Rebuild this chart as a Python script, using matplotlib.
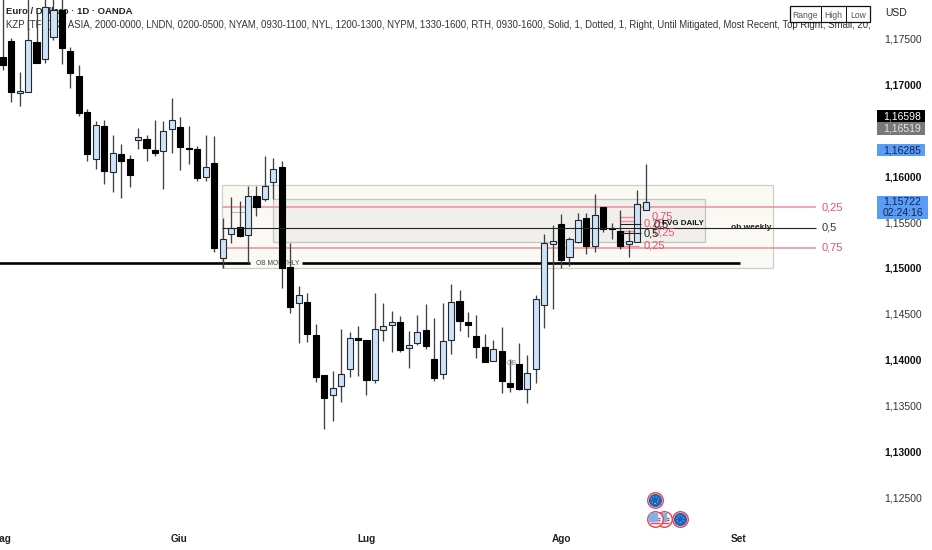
#!/bin/env python3

import matplotlib
matplotlib.use("Agg")
import matplotlib.pyplot as plt
from matplotlib.patches import Rectangle

plt.rcParams['font.family'] = ['Liberation Sans', 'DejaVu Sans']

# daily candles, one entry per session
opens = [1.17298, 1.17473, 1.16906, 1.16917, 1.17462, 1.17277, 1.17516, 1.17810, 1.17364, 1.17091,
         1.16699, 1.16187, 1.16547, 1.16046, 1.16242, 1.16187, 1.16394, 1.16405, 1.16285, 1.16274,
         1.16514, 1.16536, 1.16307, 1.16296, 1.15991, 1.16144, 1.15109, 1.15370, 1.15447, 1.15359,
         1.15784, 1.15752, 1.15937, 1.16100, 1.15011, 1.14619, 1.14630, 1.14270, 1.13834, 1.13617,
         1.13715, 1.13900, 1.14237, 1.14216, 1.13780, 1.14325, 1.14379, 1.14412, 1.14129, 1.14183,
         1.14325, 1.14009, 1.13845, 1.14216, 1.14641, 1.14412, 1.14259, 1.14139, 1.13987, 1.14096,
         1.13747, 1.13954, 1.13682, 1.13900, 1.14597, 1.15261, 1.15479, 1.15120, 1.15283, 1.15545,
         1.15240, 1.15664, 1.15436, 1.15403, 1.15261, 1.15283, 1.15632]
closes = [1.17211, 1.16917, 1.16928, 1.17484, 1.17233, 1.17843, 1.17810, 1.17396, 1.17124, 1.16688,
          1.16242, 1.16558, 1.16057, 1.16253, 1.16166, 1.16013, 1.16427, 1.16307, 1.16253, 1.16492,
          1.16612, 1.16318, 1.16296, 1.15980, 1.16100, 1.15218, 1.15316, 1.15436, 1.15349, 1.15784,
          1.15664, 1.15893, 1.16078, 1.15000, 1.14575, 1.14706, 1.14281, 1.13813, 1.13584, 1.13693,
          1.13845, 1.14237, 1.14216, 1.13780, 1.14336, 1.14368, 1.14412, 1.14107, 1.14161, 1.14303,
          1.14150, 1.13802, 1.14205, 1.14630, 1.14423, 1.14379, 1.14139, 1.13976, 1.14118, 1.13769,
          1.13704, 1.13682, 1.13856, 1.14662, 1.15272, 1.15294, 1.15087, 1.15316, 1.15523, 1.15240,
          1.15577, 1.15425, 1.15425, 1.15240, 1.15294, 1.15697, 1.15722]
highs = [1.17996, 1.17505, 1.17135, 1.17996, 1.17778, 1.17996, 1.17996, 1.17996, 1.17407, 1.17211,
         1.16732, 1.16601, 1.16612, 1.16449, 1.16351, 1.16231, 1.16525, 1.16449, 1.16612, 1.16601,
         1.16852, 1.16645, 1.16547, 1.16329, 1.16449, 1.16438, 1.15545, 1.15773, 1.15730, 1.15893,
         1.15893, 1.16220, 1.16198, 1.16166, 1.15272, 1.14804, 1.14728, 1.14390, 1.13834, 1.13878,
         1.14336, 1.14303, 1.14368, 1.14216, 1.14728, 1.14619, 1.14532, 1.14477, 1.14314, 1.14488,
         1.14608, 1.14455, 1.14619, 1.14826, 1.14760, 1.14521, 1.14488, 1.14281, 1.14216, 1.14357,
         1.14009, 1.14183, 1.14052, 1.14706, 1.15370, 1.15468, 1.15588, 1.15338, 1.15599, 1.15599,
         1.15806, 1.15664, 1.15490, 1.15632, 1.15414, 1.15850, 1.16133]
lows = [1.17157, 1.16808, 1.16765, 1.16917, 1.17233, 1.17233, 1.17484, 1.17222, 1.16961, 1.16656,
        1.16166, 1.16078, 1.15915, 1.15828, 1.15763, 1.15882, 1.16296, 1.16166, 1.16220, 1.15861,
        1.16253, 1.16068, 1.16133, 1.15948, 1.15948, 1.15174, 1.15000, 1.15272, 1.15338, 1.15054,
        1.15566, 1.15730, 1.15752, 1.14782, 1.14510, 1.14183, 1.14194, 1.13758, 1.13246, 1.13333,
        1.13540, 1.13813, 1.13824, 1.13617, 1.13747, 1.14205, 1.14085, 1.14085, 1.13911, 1.14161,
        1.14118, 1.13769, 1.13791, 1.14063, 1.14314, 1.14248, 1.14020, 1.13976, 1.13987, 1.13638,
        1.13649, 1.13671, 1.13529, 1.13747, 1.14346, 1.14553, 1.15000, 1.15022, 1.15272, 1.15153,
        1.15174, 1.15392, 1.15316, 1.15207, 1.15120, 1.15283, 1.15632]

price_ticks = [1.17500, 1.17000, 1.16000, 1.15500, 1.15000, 1.14500, 1.14000, 1.13500, 1.13000, 1.12500]
month_pos = [-0.2, 20.8, 43, 66, 87]
month_names = ["Mag", "Giu", "Lug", "Ago", "Set"]

fib_levels = [1.15664, 1.15441, 1.15218]
fib_labels = ["0,25", "0,5", "0,75"]
small_fib_red = [1.15556, 1.15512, 1.15403, 1.15240]
small_fib_black = [1.15479, 1.15381]

# label, lower edge, upper edge, box colour, text colour
price_tags = [("1,16598", 1.16590, 1.16721, "#000000", "#ffffff"),
              ("1,16519", 1.16449, 1.16590, "#787878", "#e6e6e6"),
              ("1,16285", 1.16215, 1.16351, "#5b9cf6", "#12264a")]

# calendar markers, session position and price level
eu_x = [77.1, 80.1]
eu_y = [1.12473, 1.12266]
us_x = [77.1, 78.2]
us_y = [1.12266, 1.12266]

UP_FILL = "#cfe2f7"
EDGE = "#1f2a33"
WICK = "#3f4347"


def draw_candles(axe) -> int:
    """wicks first, bodies on top"""

    for i in range(len(opens)):
        axe.vlines(i, lows[i], highs[i], color=WICK, linewidth=0.95, zorder=5)
        bottom = min(opens[i], closes[i])
        height = abs(opens[i] - closes[i])
        if (closes[i] >= opens[i]):
            fill = UP_FILL
            edge = EDGE
        else:
            fill = "#000000"
            edge = "#000000"
        axe.bar(i, height, bottom=bottom, width=0.72, color=fill, edgecolor=edge, linewidth=0.8, zorder=6)

    return 0


def draw_zones(axe) -> int:
    """order block boxes, fib levels and their labels"""

    axe.add_patch(Rectangle((25.9, 1.15000), 65.15, 0.00899, facecolor="#fbf9f4", edgecolor="#cfcfca", linewidth=0.9, zorder=1))
    axe.add_patch(Rectangle((32.0, 1.15278), 51.07, 0.00470, facecolor="#f0efeb", edgecolor="#c4c4c0", linewidth=0.9, zorder=2))

    for level, lab in zip(fib_levels, fib_labels):
        black = lab == "0,5"
        color = "#222222" if black else "#ee8c9c"
        axe.hlines(level, 25.9, 96.1, color=color, linewidth=0.8 if black else 1.1, zorder=7 if black else 3)
        axe.text(96.85, level, lab, color="#333333" if black else "#e8506e", fontsize=8, va="center", zorder=8)

    # daily FVG levels, squeezed together at the last candles
    for level in small_fib_red:
        axe.hlines(level, 73, 75.2, color="#ee8c9c", linewidth=1.0, zorder=3)
    for level in small_fib_black:
        axe.hlines(level, 73, 75.4, color="#222222", linewidth=0.8, zorder=7)
    axe.text(76.75, 1.15556, "0,75", color="#e8506e", fontsize=8, va="center", zorder=8)
    axe.text(75.8, 1.15490, "0,25", color="#e8506e", fontsize=8, va="center", zorder=8)
    axe.text(77.0, 1.15392, "0,25", color="#e8506e", fontsize=8, va="center", zorder=8)
    axe.text(75.8, 1.15240, "0,25", color="#e8506e", fontsize=8, va="center", zorder=8)
    axe.text(76.9, 1.15479, "0,5", color="#222222", fontsize=8, va="center", zorder=9)
    axe.text(75.8, 1.15381, "0,5", color="#222222", fontsize=8, va="center", zorder=9)
    axe.text(77.9, 1.15484, "FVG DAILY", color="#111111", fontsize=5.8, fontweight="bold", va="center", zorder=9)

    axe.text(86.1, 1.15441, "ob weekly", color="#222222", fontsize=6, fontweight="bold", va="center", zorder=8)

    # monthly order block, thick line with its label in a gap
    axe.hlines(1.15051, -1, 29.2, color="#000000", linewidth=1.9, zorder=4)
    axe.hlines(1.15051, 35.4, 87.15, color="#000000", linewidth=1.9, zorder=4)
    axe.text(29.9, 1.15051, "OB MONTHLY", color="#444444", fontsize=4.8, va="center", zorder=4)
    axe.text(59.6, 1.13961, "OB", color="#888888", fontsize=5, va="center", zorder=7)

    axe.plot([27, 27, 28.9], [1.15725, 1.15615, 1.15615], color="#b5b5b5", linewidth=0.7, zorder=3)

    return 0


def draw_flags(axe) -> int:
    """economic calendar markers, drawn as little round flags"""

    for x, y in list(zip(us_x, us_y))[::-1]:
        axe.scatter(x, y, s=125, c="#ffffff", edgecolors="#e8404f", linewidths=1.0, zorder=10)
        axe.hlines([y + 0.00012, y - 0.00014, y - 0.00040], x - 0.6, x + 0.6, color="#e8404f", linewidth=1.0, zorder=10)
        axe.scatter(x - 0.25, y + 0.00026, s=26, c="#7fb2ea", marker="s", zorder=10)
    for x, y in zip(eu_x, eu_y):
        axe.scatter(x, y, s=125, c="#ffffff", edgecolors="#e8404f", linewidths=1.0, zorder=10)
        axe.scatter(x, y, s=72, c="#1d63b8", zorder=11)
        axe.scatter(x, y, s=24, facecolors="none", edgecolors="#8fb6dc", linewidths=0.8, linestyle=":", zorder=12)

    return 0


def draw_header(fig, axe) -> int:
    """title lines, the range widget and the coloured price tags"""

    W, H = 932.0, 550.0

    axe.text(6 / 877.0, 1 - 12 / 528.0, "Euro / Dollaro · 1D · OANDA", transform=axe.transAxes, fontsize=6.8,
             fontweight="bold", color="#222222", va="center", zorder=1)
    info = ("KZP [TFO] (3, ASIA, 2000-0000, LNDN, 0200-0500, NYAM, 0930-1100, NYL, 1200-1300, NYPM, 1330-1600, "
            "RTH, 0930-1600, Solid, 1, Dotted, 1, Right, Until Mitigated, Most Recent, Top Right, Small, 20,")
    axe.text(6 / 877.0, 1 - 25 / 528.0, info, transform=axe.transAxes, fontsize=6.9, color="#333333", va="center", zorder=1)

    # Range / High / Low widget
    fig.add_artist(Rectangle((790 / W, 1 - 22 / H), 80 / W, 15.5 / H, transform=fig.transFigure, facecolor="#ffffff",
                             edgecolor="#111111", linewidth=0.9, zorder=20))
    for x in [821, 846]:
        fig.add_artist(plt.Line2D([x / W, x / W], [1 - 22 / H, 1 - 6.5 / H], transform=fig.transFigure, color="#111111",
                                  linewidth=0.7, zorder=21))
    for x, lab in zip([805.5, 833.5, 858], ["Range", "High", "Low"]):
        fig.text(x / W, 1 - 15 / H, lab, ha="center", va="center", fontsize=6.2, color="#555555", zorder=22)

    fig.text(896 / W, 1 - 13 / H, "USD", ha="center", va="center", fontsize=7.5, color="#222222", zorder=22)

    # tags live on the price scale, to the right of the axes
    trans = axe.get_yaxis_transform()
    for lab, y0, y1, bg, fg in price_tags:
        axe.add_patch(Rectangle((1.0, y0), 48 / 877.0, y1 - y0, transform=trans, facecolor=bg, edgecolor="none",
                                clip_on=False, zorder=20))
        axe.text(1 + 25.5 / 877.0, (y0 + y1) / 2, lab, transform=trans, ha="center", va="center", fontsize=7.5,
                 color=fg, clip_on=False, zorder=21)

    axe.add_patch(Rectangle((1.0, 1.15534), 51 / 877.0, 0.00250, transform=trans, facecolor="#5b9cf6", edgecolor="none",
                            clip_on=False, zorder=20))
    axe.text(1 + 25.5 / 877.0, 1.15719, "1,15722", transform=trans, ha="center", va="center", fontsize=7.5,
             color="#12264a", clip_on=False, zorder=21)
    axe.text(1 + 25.5 / 877.0, 1.15599, "02:24:16", transform=trans, ha="center", va="center", fontsize=7.5,
             color="#12264a", clip_on=False, zorder=21)

    return 0


def main() -> int:
    """entry point"""

    fig = plt.figure(figsize=(9.32, 5.5), dpi=100, facecolor="#ffffff")
    axe = fig.add_axes([0, 1 - 528 / 550.0, 877 / 932.0, 528 / 550.0])

    axe.set_xlim(-0.32, 103.35)
    axe.set_ylim(1.12168, 1.17919)
    for spine in axe.spines.values():
        spine.set_visible(False)

    axe.yaxis.tick_right()
    axe.set_yticks(price_ticks)
    axe.set_yticklabels([f"{p:.5f}".replace('.', ',') for p in price_ticks])
    axe.tick_params(axis="y", length=0, pad=5, labelsize=7.5, labelcolor="#333333")
    for tick, p in zip(axe.get_yticklabels(), price_ticks):
        if (round(p * 1000) % 10 == 0):
            tick.set_fontweight("bold")
            tick.set_color("#111111")

    axe.set_xticks(month_pos)
    axe.set_xticklabels(month_names, fontweight="bold")
    axe.tick_params(axis="x", length=0, pad=4, labelsize=7.2, labelcolor="#222222")

    draw_zones(axe)
    draw_candles(axe)
    draw_flags(axe)
    draw_header(fig, axe)

    plt.savefig("out.png", dpi=100)

    return 0


if __name__ == "__main__":
    main()
